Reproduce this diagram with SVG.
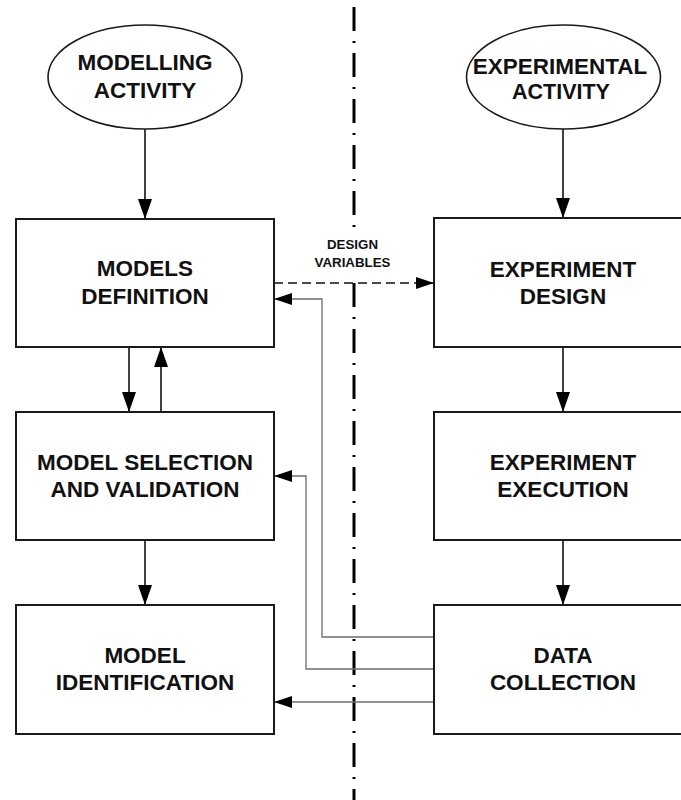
<svg xmlns="http://www.w3.org/2000/svg" width="681" height="800" viewBox="0 0 681 800">
  <style>
    .box { fill: #ffffff; stroke: #1a1a1a; stroke-width: 2; }
    .oval { fill: #ffffff; stroke: #1a1a1a; stroke-width: 1.6; }
    .lbl { font-family: "Liberation Sans", Arial, sans-serif; font-weight: bold; font-size: 22.5px; fill: #111; text-anchor: middle; }
    .small { font-family: "Liberation Sans", Arial, sans-serif; font-weight: bold; font-size: 13.3px; fill: #111; text-anchor: middle; }
    .flow { fill: none; stroke: #111; stroke-width: 1.6; marker-end: url(#headV); }
    .dashed { fill: none; stroke: #111; stroke-width: 1.4; stroke-dasharray: 9 5; marker-end: url(#headS); }
    .back { fill: none; stroke: #6e6e6e; stroke-width: 1.3; marker-end: url(#headS); }
    .axis { fill: none; stroke: #000; stroke-width: 3; stroke-dasharray: 24 10 2 10; }
  </style>
  <defs>
    <marker id="headV" markerUnits="userSpaceOnUse" markerWidth="20" markerHeight="14" refX="20" refY="7" orient="auto">
      <path d="M0,0 L20,7 L0,14 Z" fill="#000"/>
    </marker>
    <marker id="headS" markerUnits="userSpaceOnUse" markerWidth="18" markerHeight="12" refX="18" refY="6" orient="auto">
      <path d="M0,0 L18,6 L0,12 Z" fill="#000"/>
    </marker>
  </defs>

  <rect width="681" height="800" fill="#ffffff"/>

  <!-- dash-dot divider between the two activities -->
  <line class="axis" x1="354" y1="7" x2="354" y2="800"/>

  <g id="connectors">
    <line class="flow" x1="145" y1="129" x2="145" y2="219"/>
    <line class="flow" x1="563" y1="129" x2="563" y2="218"/>
    <line class="flow" x1="129" y1="347" x2="129" y2="412"/>
    <line class="flow" x1="161" y1="412" x2="161" y2="347"/>
    <line class="flow" x1="145" y1="540" x2="145" y2="605"/>
    <line class="flow" x1="563" y1="347" x2="563" y2="412"/>
    <line class="flow" x1="563" y1="540" x2="563" y2="605"/>
    <line class="dashed" x1="274" y1="283" x2="434" y2="283"/>
    <path class="back" d="M434,637 H322 V299 H274"/>
    <path class="back" d="M434,669 H306 V476 H274"/>
    <path class="back" d="M434,702 H274"/>
  </g>

  <g id="design-variables-label">
    <rect x="308" y="228" width="90" height="52" fill="#ffffff"/>
    <text class="small" x="352.5" y="249">DESIGN</text>
    <text class="small" x="352.5" y="267">VARIABLES</text>
  </g>

  <g id="modelling-activity">
    <ellipse class="oval" cx="145" cy="77" rx="97" ry="52"/>
    <text class="lbl" x="145" y="70">MODELLING</text>
    <text class="lbl" x="145" y="98">ACTIVITY</text>
  </g>

  <g id="experimental-activity">
    <ellipse class="oval" cx="563.5" cy="77" rx="97" ry="52"/>
    <text class="lbl" x="560" y="74">EXPERIMENTAL</text>
    <text class="lbl" x="561" y="99" style="font-size:21.5px">ACTIVITY</text>
  </g>

  <g id="models-definition">
    <rect class="box" x="16" y="219" width="258" height="128"/>
    <text class="lbl" x="145" y="276">MODELS</text>
    <text class="lbl" x="145" y="304">DEFINITION</text>
  </g>

  <g id="model-selection">
    <rect class="box" x="16" y="412" width="258" height="128"/>
    <text class="lbl" x="145" y="470">MODEL SELECTION</text>
    <text class="lbl" x="145" y="497">AND VALIDATION</text>
  </g>

  <g id="model-identification">
    <rect class="box" x="16" y="605" width="258" height="129"/>
    <text class="lbl" x="145" y="663">MODEL</text>
    <text class="lbl" x="145" y="690">IDENTIFICATION</text>
  </g>

  <g id="experiment-design">
    <rect class="box" x="434" y="218" width="258" height="129"/>
    <text class="lbl" x="563" y="277">EXPERIMENT</text>
    <text class="lbl" x="563" y="304">DESIGN</text>
  </g>

  <g id="experiment-execution">
    <rect class="box" x="434" y="412" width="258" height="128"/>
    <text class="lbl" x="563" y="470">EXPERIMENT</text>
    <text class="lbl" x="563" y="497">EXECUTION</text>
  </g>

  <g id="data-collection">
    <rect class="box" x="434" y="605" width="258" height="129"/>
    <text class="lbl" x="563" y="663">DATA</text>
    <text class="lbl" x="563" y="690">COLLECTION</text>
  </g>
</svg>
